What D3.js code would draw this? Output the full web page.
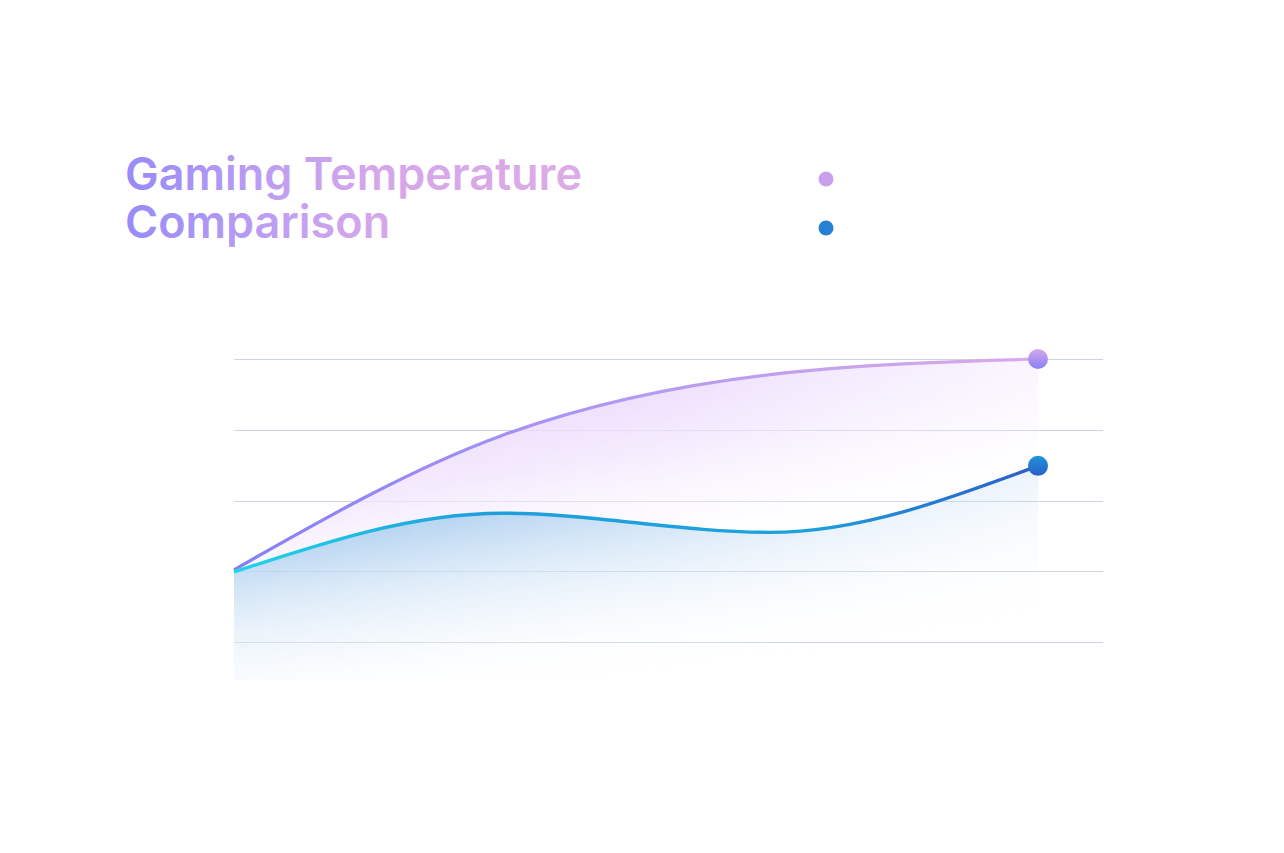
<!DOCTYPE html>
<html>
<head>
<meta charset="utf-8">
<script src="https://cdn.jsdelivr.net/npm/d3@7"></script>
<style>
  html, body { margin: 0; padding: 0; background: #fff; }
  svg { display: block; }
</style>
</head>
<body>
<div id="chart"></div>
<script>
// data (no axis labels shown in the reference)
const steps = [0, 1, 2, 3];
const seriesNames = ["Competitor", "Galaxy"];
const competitorTemp = [40.2, 59.2, 67.8, 70.0];
const galaxyTemp = [39.9, 48.2, 45.5, 54.9];
const gridValues = [30, 40, 50, 60, 70];
const baseValue = 24.6;
const titleLines = ["Gaming Temperature", "Comparison"];

const width = 1284, height = 853;

const svg = d3.select("#chart").append("svg")
  .attr("width", width)
  .attr("height", height);

const defs = svg.append("defs");

function linGrad(id, x1, y1, x2, y2, stops, units) {
  const g = defs.append("linearGradient")
    .attr("id", id)
    .attr("x1", x1).attr("y1", y1).attr("x2", x2).attr("y2", y2);
  if (units) g.attr("gradientUnits", units);
  g.selectAll("stop").data(stops).enter().append("stop")
    .attr("offset", d => d[0])
    .attr("stop-color", d => d[1])
    .attr("stop-opacity", d => d[2] == null ? 1 : d[2]);
  return g;
}

const x = d3.scaleLinear().domain([0, 3]).range([234, 1038]);
const y = d3.scaleLinear().domain([30, 70]).range([642, 359]);

// gradients
linGrad("titleGrad", 126, 0, 585, 0, [[0, "#978bf8"], [0.35, "#c2a0f1"], [0.55, "#d5a7ea"], [1, "#dcace6"]], "userSpaceOnUse");
linGrad("purpleLine", 234, 0, 1038, 0, [[0, "#857ef6"], [0.5, "#b49af0"], [1, "#d9abe8"]], "userSpaceOnUse");
linGrad("blueLine", 234, 0, 1038, 0, [[0, "#1fd6e6"], [0.3, "#1e9fdc"], [0.7, "#1ea2dd"], [1, "#2b5cc8"]], "userSpaceOnUse");
linGrad("purpleArea", "0", "0", "0.6", "1", [[0, "#dcc2fb", 1], [0.55, "#f1e3fd", 0.8], [1, "#ffffff", 0]]);
linGrad("blueArea", "0", "0", "0.5", "1", [[0, "#6aa6e2", 1], [0.5, "#c9dff5", 0.7], [1, "#ffffff", 0]]);
linGrad("purpleDot", 0, 0, 0, 1, [[0, "#d6a8ea"], [1, "#8a7ff7"]]);
linGrad("blueDot", 0, 0, 0, 1, [[0, "#1f94da"], [1, "#2a5ec8"]]);

// horizontal fade mask so the areas melt into white on the right
linGrad("fadeRight", 234, 0, 1038, 0, [[0, "#fff"], [0.55, "#fff", 0.85], [1, "#fff", 0.35]], "userSpaceOnUse");
defs.append("mask").attr("id", "areaMask")
  .append("rect")
  .attr("x", 0).attr("y", 0).attr("width", width).attr("height", height)
  .attr("fill", "url(#fadeRight)");

// title
const title = svg.append("text")
  .attr("x", 125)
  .attr("y", 190)
  .attr("font-family", "Inter, 'Open Sans', sans-serif")
  .attr("font-weight", 600)
  .attr("font-size", 45)
  .attr("fill", "url(#titleGrad)");
title.selectAll("tspan").data(titleLines).enter().append("tspan")
  .attr("x", 125)
  .attr("dy", (d, i) => i === 0 ? 0 : 48)
  .text(d => d);

// legend dots
const legendColors = ["#c9a0ee", "#2680d6"];
svg.append("g").selectAll("circle")
  .data(seriesNames)
  .enter().append("circle")
  .attr("cx", 826)
  .attr("cy", (d, i) => 179 + i * 49)
  .attr("r", 7.5)
  .attr("fill", (d, i) => legendColors[i]);

// grid
svg.append("g").selectAll("line")
  .data(gridValues)
  .enter().append("line")
  .attr("x1", 234).attr("x2", 1103)
  .attr("y1", d => Math.round(y(d)) + 0.5)
  .attr("y2", d => Math.round(y(d)) + 0.5)
  .attr("stroke", "#cdd5e3")
  .attr("stroke-width", 1);

const curve = d3.curveMonotoneX;
const comp = steps.map((s, i) => ({ s, v: competitorTemp[i], b: galaxyTemp[i] }));
const gal = steps.map((s, i) => ({ s, v: galaxyTemp[i] }));

const areas = svg.append("g").attr("mask", "url(#areaMask)");

// purple band between the two lines
const bandArea = d3.area()
  .x(d => x(d.s))
  .y0(d => y(d.b))
  .y1(d => y(d.v))
  .curve(curve);
areas.append("path")
  .datum(comp)
  .attr("d", bandArea)
  .attr("fill", "url(#purpleArea)");

// blue area down to base
const blueArea = d3.area()
  .x(d => x(d.s))
  .y0(y(baseValue))
  .y1(d => y(d.v))
  .curve(curve);
areas.append("path")
  .datum(gal)
  .attr("d", blueArea)
  .attr("fill", "url(#blueArea)");

const line = d3.line()
  .x(d => x(d.s))
  .y(d => y(d.v))
  .curve(curve);

svg.append("path")
  .datum(comp)
  .attr("d", line)
  .attr("fill", "none")
  .attr("stroke", "url(#purpleLine)")
  .attr("stroke-width", 3.2);

svg.append("path")
  .datum(gal)
  .attr("d", line)
  .attr("fill", "none")
  .attr("stroke", "url(#blueLine)")
  .attr("stroke-width", 3.4);

// end markers
svg.append("circle")
  .attr("cx", x(steps[3])).attr("cy", y(competitorTemp[3]))
  .attr("r", 10)
  .attr("fill", "url(#purpleDot)");
svg.append("circle")
  .attr("cx", x(steps[3])).attr("cy", y(galaxyTemp[3]))
  .attr("r", 10)
  .attr("fill", "url(#blueDot)");
</script>
</body>
</html>
